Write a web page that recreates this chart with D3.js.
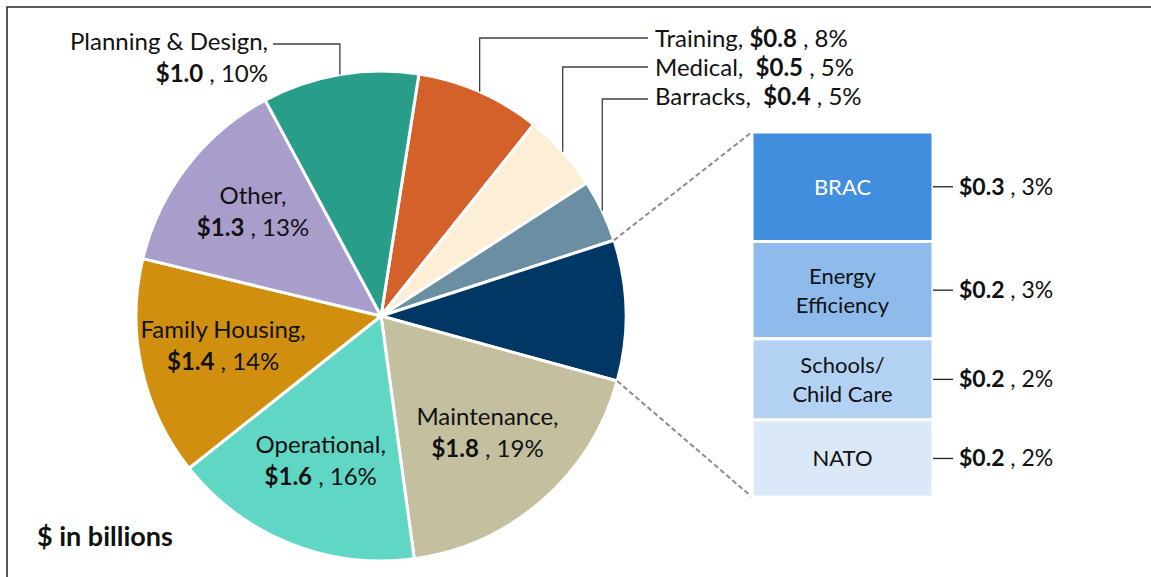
<!DOCTYPE html>
<html>
<head>
<meta charset="utf-8">
<script src="https://cdn.jsdelivr.net/npm/d3@7"></script>
<style>
  body { margin: 0; background: #fff; }
  svg { display: block; font-family: Lato, "Open Sans", sans-serif; }
</style>
</head>
<body>
<svg id="chart" width="1151" height="577"></svg>
<script>
// pie slices, clockwise starting from Training
var categories = ["Training", "Medical", "Barracks", "Other MILCON", "Maintenance", "Operational", "Family Housing", "Other", "Planning & Design"];
var pieValues = [0.8, 0.5, 0.4, 0.9, 1.8, 1.6, 1.4, 1.3, 1.0];
var pieDollars = ["$0.8", "$0.5", "$0.4", "", "$1.8", "$1.6", "$1.4", "$1.3", "$1.0"];
var pieShares = ["8%", "5%", "5%", "", "19%", "16%", "14%", "13%", "10%"];
var pieColors = ["#d4602a", "#fcefd6", "#6a8fa2", "#003764", "#c4bf9f", "#5fd7c4", "#d18f10", "#a99ecb", "#289e8a"];

// breakdown of the dark slice
var barCategories = ["BRAC", "Energy\nEfficiency", "Schools/\nChild Care", "NATO"];
var barValues = [0.27, 0.24, 0.2, 0.19];
var barDollars = ["$0.3", "$0.2", "$0.2", "$0.2"];
var barShares = ["3%", "3%", "2%", "2%"];
var barColors = ["#418dde", "#8ebbeb", "#b3d2f3", "#dae8f8"];
var barTextColors = ["#ffffff", "#111111", "#111111", "#111111"];

var svg = d3.select("#chart");
var cx = 381, cy = 316, r = 245;
var fs = 24;
var ink = "#111";

// frame (top and left edges only)
svg.append("path").attr("d", "M7,577 V7 H1151").attr("fill", "none").attr("stroke", "#222").attr("stroke-width", 1.5);

var data = categories.map(function (c, i) {
  return { name: c, value: pieValues[i], dollar: pieDollars[i], share: pieShares[i], color: pieColors[i] };
});

var start = 8.9 * Math.PI / 180;
var pie = d3.pie().sort(null).value(function (d) { return d.value; })
  .startAngle(start).endAngle(start + 2 * Math.PI);
var arcs = pie(data);
var arc = d3.arc().innerRadius(0).outerRadius(r);
var labelArc = d3.arc().innerRadius(r * 0.66).outerRadius(r * 0.66);

var g = svg.append("g").attr("transform", "translate(" + cx + "," + cy + ")");
g.selectAll("path.slice").data(arcs).enter().append("path")
  .attr("class", "slice")
  .attr("d", arc)
  .attr("fill", function (d) { return d.data.color; })
  .attr("stroke", "#fff").attr("stroke-width", 3).attr("stroke-linejoin", "round");

function valueLine(sel, d) {
  sel.append("tspan").attr("font-weight", "bold").text(d.dollar);
  sel.append("tspan").text(" , " + d.share);
}

// labels inside slices
var inside = ["Maintenance", "Operational", "Family Housing", "Other"];
arcs.filter(function (a) { return inside.indexOf(a.data.name) >= 0; }).forEach(function (a) {
  var c = labelArc.centroid(a);
  g.append("text").attr("text-anchor", "middle").attr("font-size", fs).attr("fill", ink)
    .attr("x", c[0]).attr("y", c[1] - 13).text(a.data.name + ",");
  var t2 = g.append("text").attr("text-anchor", "middle").attr("font-size", fs).attr("fill", ink)
    .attr("x", c[0]).attr("y", c[1] + 19);
  valueLine(t2, a.data);
});

// leader labels
function edgePoint(a) {
  var m = (a.startAngle + a.endAngle) / 2;
  return [Math.sin(m) * r, -Math.cos(m) * r];
}
var leaders = [
  { name: "Training", y: 38, ty: 47, gap: " " },
  { name: "Medical", y: 67, ty: 76, gap: "  " },
  { name: "Barracks", y: 99, ty: 105, gap: "  " }
];
leaders.forEach(function (l) {
  var a = arcs.find(function (d) { return d.data.name === l.name; });
  var p = edgePoint(a);
  g.append("path")
    .attr("d", "M" + p[0] + "," + p[1] + " V" + (l.y - cy) + " H" + (648 - cx))
    .attr("fill", "none").attr("stroke", "#404040").attr("stroke-width", 1.3);
  var t = svg.append("text").attr("x", 655).attr("y", l.ty).attr("font-size", fs).attr("fill", ink)
    .attr("xml:space", "preserve");
  t.append("tspan").text(l.name + "," + l.gap);
  valueLine(t, a.data);
});

var plan = arcs.find(function (d) { return d.data.name === "Planning & Design"; });
var pp = edgePoint(plan);
g.append("path")
  .attr("d", "M" + pp[0] + "," + pp[1] + " V" + (44 - cy) + " H" + (273 - cx))
  .attr("fill", "none").attr("stroke", "#404040").attr("stroke-width", 1.3);
svg.append("text").attr("x", 268).attr("y", 50).attr("text-anchor", "end").attr("font-size", fs).attr("fill", ink)
  .text("Planning & Design,");
valueLine(svg.append("text").attr("x", 268).attr("y", 82).attr("text-anchor", "end").attr("font-size", fs).attr("fill", ink), plan.data);

// stacked bar of the dark slice
var bx = 752, bw = 181;
var y = d3.scaleLinear().domain([0, d3.sum(barValues)]).range([132, 497]);
var cum = 0;
var bars = barValues.map(function (v, i) {
  var b = { i: i, y0: cum, y1: cum + v };
  cum += v;
  return b;
});

// dashed connectors
var dark = arcs.find(function (d) { return d.data.name === "Other MILCON"; });
var p0 = [cx + Math.sin(dark.startAngle) * r, cy - Math.cos(dark.startAngle) * r];
var p1 = [cx + Math.sin(dark.endAngle) * r, cy - Math.cos(dark.endAngle) * r];
[[p0, y(0)], [p1, y(cum)]].forEach(function (c) {
  svg.append("line").attr("x1", c[0][0]).attr("y1", c[0][1]).attr("x2", bx).attr("y2", c[1])
    .attr("stroke", "#8c8c8c").attr("stroke-width", 2).attr("stroke-dasharray", "5,3");
});

svg.selectAll("rect.bar").data(bars).enter().append("rect")
  .attr("class", "bar")
  .attr("x", bx).attr("width", bw)
  .attr("y", function (d) { return y(d.y0); })
  .attr("height", function (d) { return y(d.y1) - y(d.y0); })
  .attr("fill", function (d) { return barColors[d.i]; })
  .attr("stroke", "#fff").attr("stroke-width", 3);

bars.forEach(function (b) {
  var mid = (y(b.y0) + y(b.y1)) / 2;
  var lines = barCategories[b.i].split("\n");
  var t = svg.append("text").attr("text-anchor", "middle").attr("font-size", 22).attr("fill", barTextColors[b.i]);
  lines.forEach(function (s, k) {
    t.append("tspan").attr("x", bx + bw / 2)
      .attr("y", mid + 8 + (k - (lines.length - 1) / 2) * 29).text(s);
  });
  svg.append("line").attr("x1", bx + bw).attr("x2", bx + bw + 20).attr("y1", mid).attr("y2", mid)
    .attr("stroke", "#222").attr("stroke-width", 1.3);
  var v = svg.append("text").attr("x", bx + bw + 26).attr("y", mid + 8).attr("font-size", 23).attr("fill", ink);
  valueLine(v, { dollar: barDollars[b.i], share: barShares[b.i] });
});

svg.append("text").attr("x", 37).attr("y", 546).attr("font-size", 27).attr("font-weight", "bold")
  .attr("fill", "#111").text("$ in billions");
</script>
</body>
</html>
